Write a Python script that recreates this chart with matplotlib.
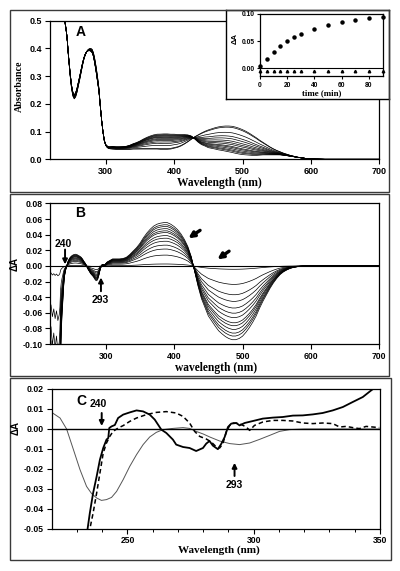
import numpy as np
import matplotlib
matplotlib.use('Agg')
import matplotlib.pyplot as plt
from matplotlib.patches import Rectangle

# ---------------- data ----------------
# common wavelength grid (UV part and visible part)
wl_uv = [220, 222, 224, 226, 228, 230, 232,
         233, 234, 235, 236, 237, 238, 239, 240, 241, 242, 243, 244, 245, 246,
         248, 250, 252, 254, 256, 258, 260, 262, 264, 266, 268, 270, 272, 274,
         276, 278, 280, 282, 284, 286, 288, 290, 292, 294, 296, 298, 300, 302,
         304, 306]
# initial absorbance spectrum (panel A, t = 0)
s0_uv = [1.5, 1.4, 1.3, 1.2, 1.1, 1.0, 0.9,
         0.85, 0.80, 0.74, 0.68, 0.63, 0.585, 0.545, 0.51, 0.49, 0.47, 0.449, 0.42, 0.385, 0.355,
         0.30, 0.255, 0.228, 0.218, 0.225, 0.242, 0.265, 0.288, 0.313, 0.338, 0.36, 0.376, 0.388, 0.395,
         0.399, 0.40, 0.397, 0.385, 0.362, 0.333, 0.298, 0.258, 0.196, 0.14, 0.097, 0.066, 0.05, 0.043,
         0.039, 0.038]
# final difference spectrum (panel B, largest curve)
d_uv = [-0.20, -0.26, -0.22, -0.27, -0.23, -0.28, -0.25,
        -0.21, -0.12, -0.085, -0.065, -0.05, -0.033, -0.02, -0.012, -0.007, -0.003, 0.0, 0.003, 0.006, 0.008,
        0.011, 0.0128, 0.014, 0.0148, 0.015, 0.0145, 0.0135, 0.0125, 0.0112, 0.009, 0.006, 0.0035, 0.0, -0.004,
        -0.007, -0.010, -0.012, -0.014, -0.017, -0.019, -0.018, -0.012, -0.004, 0.001, 0.002, 0.001, 0.003, 0.005,
        0.006, 0.007]

wl_vis = [310, 315, 320, 325, 330, 335, 340, 345, 350, 355,
          360, 365, 370, 375, 380, 385, 390, 395, 400, 405,
          410, 415, 420, 425, 430, 435, 440, 445, 450, 455,
          460, 465, 470, 475, 480, 485, 490, 495, 500, 505,
          510, 515, 520, 525, 530, 535, 540, 545, 550, 555,
          560, 565, 570, 575, 580, 585, 590, 595, 600,
          620, 650, 700]
s0_vis = [0.037, 0.036, 0.036, 0.036, 0.036, 0.036, 0.037, 0.037, 0.037, 0.037,
          0.037, 0.037, 0.037, 0.037, 0.036, 0.036, 0.036, 0.037, 0.040, 0.043,
          0.048, 0.055, 0.063, 0.072, 0.081, 0.088, 0.095, 0.101, 0.106, 0.110,
          0.114, 0.117, 0.119, 0.120, 0.120, 0.119, 0.116, 0.112, 0.107, 0.101,
          0.094, 0.086, 0.078, 0.069, 0.061, 0.053, 0.045, 0.038, 0.032, 0.027,
          0.022, 0.018, 0.014, 0.011, 0.008, 0.006, 0.004, 0.002, 0.001,
          0.0, 0.0, 0.0]
d_vis = [0.009, 0.009, 0.009, 0.0095, 0.011, 0.0145, 0.019, 0.0234, 0.029, 0.036,
         0.042, 0.047, 0.051, 0.0535, 0.0548, 0.0555, 0.0555, 0.0535, 0.0505, 0.0465,
         0.041, 0.034, 0.025, 0.012, -0.007, -0.026, -0.042, -0.053, -0.064, -0.0705,
         -0.077, -0.083, -0.087, -0.0905, -0.093, -0.0945, -0.0945, -0.093, -0.090, -0.085,
         -0.079, -0.072, -0.064, -0.054, -0.045, -0.037, -0.029, -0.022, -0.016, -0.011,
         -0.0075, -0.005, -0.003, -0.0018, -0.001, -0.0005, -0.0002, 0.0, 0.0,
         0.0, 0.0, 0.0]

# extent of reaction for each recorded spectrum
fractions = [0, 0.045, 0.25, 0.39, 0.48, 0.57, 0.64, 0.70, 0.77, 0.81, 0.86, 0.91, 0.95, 1.0]

# inset kinetics
t_circ = [0, 5, 10, 15, 20, 25, 30, 40, 50, 60, 70, 80, 90]
dA_circ = [0.004, 0.018, 0.031, 0.041, 0.050, 0.057, 0.063, 0.073, 0.080, 0.085, 0.089, 0.092, 0.095]
t_tri = [0, 5, 10, 15, 20, 25, 30, 40, 50, 60, 70, 80, 90]
dA_tri = [-0.004, -0.004, -0.004, -0.004, -0.004, -0.005, -0.004, -0.004, -0.005, -0.005, -0.005, -0.005, -0.005]

# panel C
c_wl_solid = [233.8, 234.2, 235.1, 236.4, 237.8, 239.1, 240.4, 241.7, 242.4, 242.8, 243.7, 245.0, 246.3,
              248.3, 250.9, 253.6, 256.2, 258.8, 260.8, 262.1, 263.4, 265.4, 268.0, 269.3, 272.0,
              274.6, 277.2, 279.9, 281.2, 282.5, 283.8, 285.8, 287.2, 288.5, 289.8, 291.1, 293.1,
              294.4, 296.4, 299.7, 303.6, 307.6, 311.5, 315.5, 319.4, 323.4, 327.3, 331.3, 335.3,
              339.2, 343.2, 346.5, 347.8, 349.0]
c_solid = [-0.06, -0.05, -0.042, -0.032, -0.0237, -0.0153, -0.0095, -0.0053, -0.0045, 0.0005, 0.0013, 0.002, 0.0055,
           0.0072, 0.0083, 0.0093, 0.0088, 0.0072, 0.0047, 0.0022, -0.0003, -0.002, -0.0053, -0.0078, -0.009,
           -0.0095, -0.011, -0.0095, -0.0073, -0.006, -0.0083, -0.0101, -0.0073, -0.004, 0.001, 0.0027, 0.003,
           0.0018, 0.003, 0.004, 0.0052, 0.0057, 0.006, 0.0067, 0.0068, 0.0073, 0.008, 0.0093, 0.011,
           0.0135, 0.016, 0.0193, 0.0205, 0.022]
c_wl_dash = [234.8, 235.1, 236.4, 237.8, 239.1, 240.4, 241.7, 243.0, 244.3, 246.3, 248.3, 250.9, 253.6,
             257.5, 261.4, 265.4, 269.3, 272.0, 274.6, 276.6, 278.6, 281.2, 283.2, 285.2, 286.5,
             287.8, 289.1, 290.5, 291.8, 294.4, 297.0, 298.4, 300.3, 303.6, 307.6, 311.5, 315.5,
             319.4, 323.4, 327.3, 331.3, 334.0, 336.6, 339.2, 341.8, 344.5, 347.1, 349.7]
c_dash = [-0.06, -0.05, -0.042, -0.032, -0.022, -0.012, -0.007, -0.0037, -0.0012, 0.0005, 0.0017, 0.0038, 0.0055,
          0.0072, 0.0083, 0.0087, 0.008, 0.0063, 0.003, -0.0012, -0.0037, -0.005, -0.0065, -0.009, -0.0095,
          -0.0073, -0.0015, 0.0018, 0.003, 0.0027, 0.001, -0.0007, 0.0018, 0.0035, 0.0043, 0.0043, 0.004,
          0.003, 0.0027, 0.003, 0.0027, 0.001, 0.0013, 0.0007, 0.0002, 0.0013, 0.001, 0.0007]
c_wl_thin = [220, 223.3, 225.9, 228.6, 231.2, 233.8, 235.8, 237.8, 239.7, 241.7, 243.7, 245.7, 248.3,
             250.9, 253.6, 256.2, 258.8, 261.4, 264.1, 268.0, 272.0, 274.6, 277.2, 280.0, 282.6,
             286.5, 290.5, 294.4, 298.4, 302.3, 306.3, 310.2, 314.2, 320, 330, 340, 350]
c_thin = [0.0083, 0.0055, 0.0, -0.0103, -0.0203, -0.0287, -0.0323, -0.0345, -0.0357, -0.0353, -0.0342, -0.0312, -0.0253,
          -0.0187, -0.0128, -0.0078, -0.004, -0.0017, -0.0003, 0.0003, 0.0007, 0.0003, -0.0012, -0.0025, -0.004,
          -0.006, -0.0073, -0.0078, -0.007, -0.0052, -0.0032, -0.0012, -0.0003, 0.0, 0.0, 0.0, 0.0]

# ---------------- figure ----------------
plt.rcParams['font.family'] = ['Liberation Sans', 'DejaVu Sans']
plt.rcParams['font.weight'] = 'bold'
plt.rcParams['axes.unicode_minus'] = False
SERIF = ['Liberation Serif', 'DejaVu Serif']

W, H = 400, 571
fig = plt.figure(figsize=(4.0, 5.71), dpi=100)


def rect(l, t, r, b):
    return [l / W, 1 - b / H, (r - l) / W, (b - t) / H]


def fp(x, y):
    return (x / W, 1 - y / H)


def frame(l, t, r, b):
    fig.add_artist(Rectangle((l / W, 1 - b / H), (r - l) / W, (b - t) / H,
                             transform=fig.transFigure, fill=False, lw=1.0, ec='#3a3a3a'))


frame(10, 10, 389, 192)
frame(10, 194, 389, 376)
frame(10, 378, 391, 560)


def style(ax, size):
    for s in ax.spines.values():
        s.set_linewidth(0.9)
    ax.tick_params(direction='out', length=3.5, width=0.8, labelsize=size, pad=2)
    ax.tick_params(which='minor', direction='out', length=2.5, width=0.7)


wl = np.array(wl_uv + wl_vis, dtype=float)
S0 = np.array(s0_uv + s0_vis)
D = np.array(d_uv + d_vis)

# ---- Panel A ----
axA = fig.add_axes(rect(50, 20.7, 379.3, 159.3))
for f in fractions:
    axA.plot(wl, S0 + f * D, color='k', lw=0.5)
axA.set_xlim(218.5, 700)
axA.set_ylim(0, 0.5)
axA.set_xticks([300, 400, 500, 600, 700])
axA.set_yticks([0.0, 0.1, 0.2, 0.3, 0.4, 0.5])
axA.set_yticklabels(['0.0', '0.1', '0.2', '0.3', '0.4', '0.5'])
style(axA, 6.5)

# inset box and inset
box = fig.add_axes(rect(226, 10, 389, 99))
box.set_xticks([]); box.set_yticks([])
for s in box.spines.values():
    s.set_linewidth(1.0)
axI = fig.add_axes(rect(260, 14, 382.5, 76))
axI.plot(t_circ, dA_circ, 'o', color='k', ms=2.2, clip_on=False)
axI.plot(t_tri, dA_tri, '^', color='k', ms=1.8, clip_on=False)
axI.axhline(0, color='k', lw=0.8)
axI.set_xlim(0, 90)
axI.set_ylim(-0.014, 0.10)
axI.set_xticks([0, 20, 40, 60, 80])
axI.set_yticks([0.0, 0.05, 0.10])
axI.set_yticklabels(['0.00', '0.05', '0.10'])
style(axI, 4.8)
axI.tick_params(length=2.5, pad=1.5)

# ---- Panel B ----
axB = fig.add_axes(rect(50, 203.5, 379.3, 344))
for f in fractions:
    axB.plot(wl, f * D, color='k', lw=0.5)
axB.axhline(0, color='k', lw=0.8)
axB.set_xlim(218.5, 700)
axB.set_ylim(-0.10, 0.08)
axB.set_xticks([300, 400, 500, 600, 700])
yt = [-0.10, -0.08, -0.06, -0.04, -0.02, 0.0, 0.02, 0.04, 0.06, 0.08]
axB.set_yticks(yt)
axB.set_yticklabels(['%.2f' % v for v in yt])
style(axB, 6.2)

arrow_thin = dict(arrowstyle='-|>', color='k', lw=1.4, mutation_scale=7, shrinkA=0, shrinkB=0)
arrow_bold = dict(arrowstyle='-|>', color='k', lw=2.4, mutation_scale=8, shrinkA=0, shrinkB=0)
axB.annotate('', xy=(240.5, 0.002), xytext=(240.5, 0.021), arrowprops=arrow_thin)
axB.text(237.6, 0.0276, '240', ha='center', va='center', fontsize=7.5)
axB.annotate('', xy=(293, -0.0148), xytext=(293, -0.0324), arrowprops=arrow_thin)
axB.text(291.7, -0.043, '293', ha='center', va='center', fontsize=7.5)
axB.annotate('', xy=(420.8, 0.0354), xytext=(437.9, 0.0456), arrowprops=arrow_bold)
axB.annotate('', xy=(463.2, 0.0084), xytext=(480.3, 0.0189), arrowprops=arrow_bold)

# ---- Panel C ----
axC = fig.add_axes(rect(51.7, 389, 380, 529))
axC.plot(c_wl_thin, c_thin, color='#555555', lw=0.7)
axC.plot(c_wl_dash, c_dash, color='k', lw=1.1, ls=(0, (3, 2)))
axC.plot(c_wl_solid, c_solid, color='k', lw=1.3)
axC.axhline(0, color='k', lw=1.0)
axC.set_xlim(220, 350)
axC.set_ylim(-0.05, 0.02)
axC.set_xticks([250, 300, 350])
axC.set_xticks([230, 240, 260, 270, 280, 290, 310, 320, 330, 340], minor=True)
ytc = [-0.05, -0.04, -0.03, -0.02, -0.01, 0.0, 0.01, 0.02]
axC.set_yticks(ytc)
axC.set_yticklabels(['%.2f' % v for v in ytc])
style(axC, 6.2)
axC.tick_params(axis='x', pad=1.5)
axC.annotate('', xy=(239.8, 0.0015), xytext=(239.8, 0.008), arrowprops=arrow_thin)
axC.text(238.5, 0.0125, '240', ha='center', va='center', fontsize=7.5)
axC.annotate('', xy=(292.4, -0.0169), xytext=(292.4, -0.0235), arrowprops=arrow_thin)
axC.text(292.4, -0.028, '293', ha='center', va='center', fontsize=7.5)

# ---- texts ----
fig.text(*fp(81, 32), 'A', fontsize=10, ha='center', va='center')
fig.text(*fp(80.5, 213.5), 'B', fontsize=10, ha='center', va='center')
fig.text(*fp(81, 401), 'C', fontsize=10, ha='center', va='center')

fig.text(*fp(219, 183), 'Wavelength (nm)', family=SERIF, weight='bold', fontsize=8.3, ha='center', va='center')
fig.text(*fp(19, 86), 'Absorbance', family=SERIF, weight='bold', fontsize=7.2, rotation=90, ha='center', va='center')
fig.text(*fp(216, 368), 'wavelength (nm)', family=SERIF, weight='bold', fontsize=8.3, ha='center', va='center')
fig.text(*fp(14.5, 264), 'ΔA', fontsize=7, rotation=90, ha='center', va='center')
fig.text(*fp(219, 550), 'Wavelength (nm)', family=SERIF, weight='bold', fontsize=8.0, ha='center', va='center')
fig.text(*fp(16, 428), 'ΔA', fontsize=7, rotation=90, ha='center', va='center')
fig.text(*fp(235.5, 39), 'ΔA', fontsize=5.5, rotation=90, ha='center', va='center')
fig.text(*fp(322, 93), 'time (min)', family=SERIF, weight='bold', fontsize=6.4, ha='center', va='center')

fig.savefig('out.png', dpi=100, facecolor='white')
